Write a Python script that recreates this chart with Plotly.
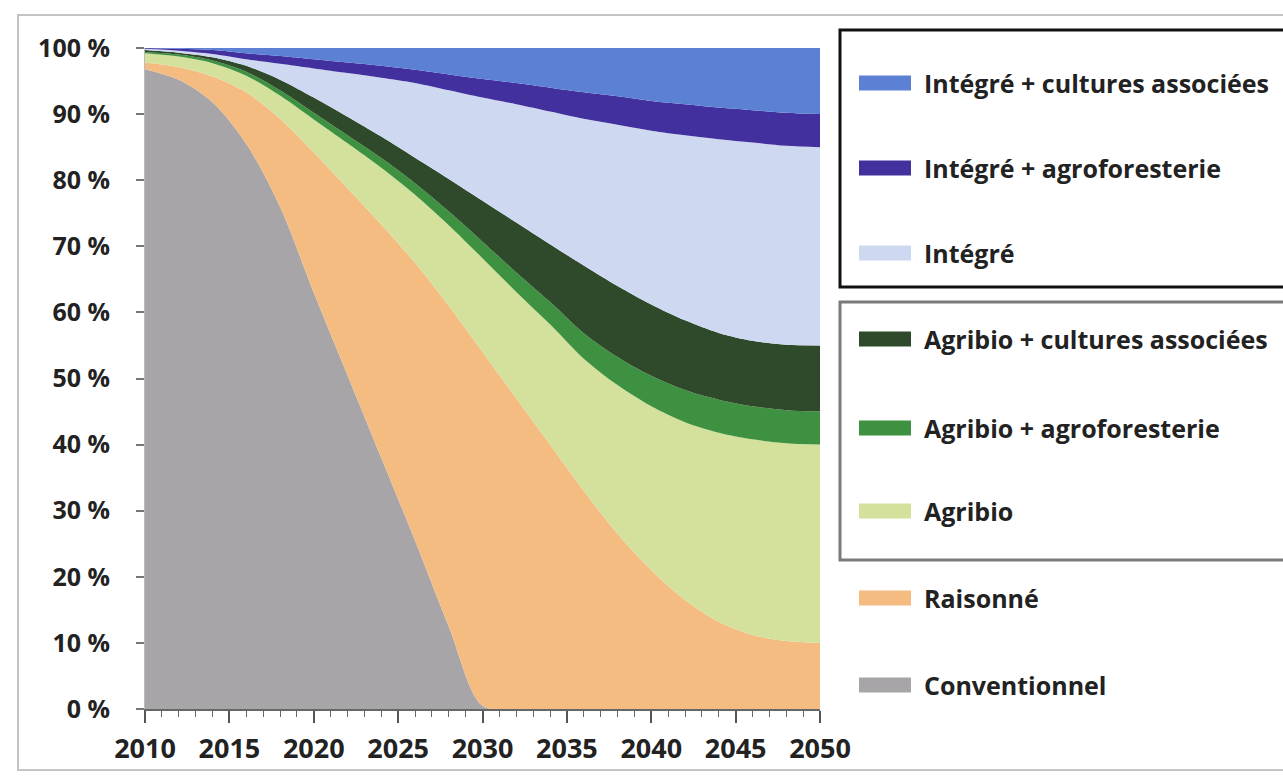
import plotly.graph_objects as go

# ---------------- data (share of area, %) ----------------
years = [2010, 2012, 2014, 2016, 2018, 2020, 2022, 2024, 2026, 2028, 2030,
         2032, 2034, 2036, 2038, 2040, 2042, 2044, 2046, 2048, 2050]

conventionnel = [96.8, 95.2, 91.8, 85.5, 76.0, 63.0, 50.5, 38.0, 25.5, 12.5, 0.5,
                 0, 0, 0, 0, 0, 0, 0, 0, 0, 0]
raisonne = [1.0, 1.9, 3.9, 7.8, 13.3, 21.2, 28.3, 35.3, 42.0, 48.5, 53.5,
            47.0, 40.0, 33.0, 26.5, 21.0, 16.5, 13.2, 11.2, 10.3, 10.0]
agribio = [1.4, 1.6, 2.0, 2.5, 3.5, 5.0, 6.8, 8.6, 10.3, 12.2, 14.2,
           16.1, 18.2, 20.0, 22.5, 24.8, 26.9, 28.6, 29.6, 29.9, 30.0]
agribio_agrof = [0.2, 0.3, 0.4, 0.6, 0.8, 1.0, 1.2, 1.45, 1.75, 2.1, 2.5,
                 2.95, 3.4, 3.85, 4.25, 4.6, 4.85, 5.0, 5.0, 5.0, 5.0]
agribio_ca = [0.3, 0.3, 0.5, 0.9, 1.6, 2.3, 2.8, 3.25, 3.85, 4.9, 6.2,
              7.55, 8.7, 10.25, 10.75, 10.8, 10.55, 10.1, 9.9, 9.9, 10.0]
integre = [0.2, 0.3, 0.5, 1.0, 2.4, 4.4, 6.6, 8.9, 11.3, 13.4, 15.6,
           17.9, 20.1, 22.2, 24.4, 26.3, 28.0, 29.3, 30.0, 30.1, 30.0]
integre_agrof = [0.1, 0.3, 0.6, 0.9, 1.2, 1.4, 1.6, 1.8, 2.0, 2.4, 2.8,
                 3.2, 3.6, 4.0, 4.3, 4.5, 4.7, 4.8, 4.9, 5.0, 5.0]
integre_ca = [0.0, 0.1, 0.3, 0.8, 1.2, 1.7, 2.2, 2.7, 3.3, 4.0, 4.7,
              5.3, 6.0, 6.7, 7.3, 8.0, 8.5, 9.0, 9.4, 9.8, 10.0]

series_names = ["Conventionnel", "Raisonné", "Agribio", "Agribio + agroforesterie",
                "Agribio + cultures associées", "Intégré", "Intégré + agroforesterie",
                "Intégré + cultures associées"]
series_values = [conventionnel, raisonne, agribio, agribio_agrof, agribio_ca,
                 integre, integre_agrof, integre_ca]
series_colors = ["#a8a5a8", "#f5bc82", "#d3e19d", "#3e9141", "#2f4a2a",
                 "#cfd8f1", "#41309e", "#5b80d4"]

y_tickvals = [0, 10, 20, 30, 40, 50, 60, 70, 80, 90, 100]
y_ticktext = ["0 %", "10 %", "20 %", "30 %", "40 %", "50 %", "60 %", "70 %",
              "80 %", "90 %", "100 %"]
x_tickvals = [2010, 2015, 2020, 2025, 2030, 2035, 2040, 2045, 2050]

# legend order (top to bottom) and pixel rows
legend_order = ["Intégré + cultures associées", "Intégré + agroforesterie", "Intégré",
                "Agribio + cultures associées", "Agribio + agroforesterie", "Agribio",
                "Raisonné", "Conventionnel"]
legend_rows_px = [83, 168, 253, 339, 428, 511, 598, 685]

# ---------------- figure ----------------
W, H = 1283, 781
L, R, T, B = 145, 820, 48, 709

fig = go.Figure()
for name, vals, col in zip(series_names, series_values, series_colors):
    fig.add_trace(go.Scatter(
        x=years, y=vals, name=name, stackgroup="one", mode="lines",
        line=dict(width=0, shape="spline", smoothing=0.9, color=col),
        fillcolor=col, showlegend=False, hoverinfo="x+y+name"))


def px_x(p):
    return (p - L) / (R - L)


def px_y(p):
    return (B - p) / (B - T)


shapes = []
annotations = []
color_of = dict(zip(series_names, series_colors))
for name, row in zip(legend_order, legend_rows_px):
    shapes.append(dict(type="rect", xref="paper", yref="paper",
                       x0=px_x(859), x1=px_x(911), y0=px_y(row + 7.5), y1=px_y(row - 7.5),
                       fillcolor=color_of[name], line=dict(width=0)))
    annotations.append(dict(xref="paper", yref="paper", x=px_x(922), y=px_y(row),
                            xanchor="left", yanchor="middle", showarrow=False,
                            text=name,
                            font=dict(family="Open Sans", size=25, color="#222222",
                                      weight=700)))

# group boxes
shapes.append(dict(type="rect", xref="paper", yref="paper",
                   x0=px_x(840), x1=px_x(1300), y0=px_y(287), y1=px_y(30),
                   line=dict(color="#111111", width=3), fillcolor="rgba(0,0,0,0)"))
shapes.append(dict(type="rect", xref="paper", yref="paper",
                   x0=px_x(840), x1=px_x(1300), y0=px_y(560), y1=px_y(302),
                   line=dict(color="#7a7a7a", width=3), fillcolor="rgba(0,0,0,0)"))
# outer frame
shapes.append(dict(type="rect", xref="paper", yref="paper",
                   x0=px_x(18), x1=px_x(1300), y0=px_y(770), y1=px_y(15),
                   line=dict(color="#c4c4c4", width=2), fillcolor="rgba(0,0,0,0)",
                   layer="below"))

fig.update_layout(
    width=W, height=H,
    margin=dict(l=L, r=W - R, t=T, b=H - B, pad=0),
    paper_bgcolor="white", plot_bgcolor="white",
    shapes=shapes, annotations=annotations, showlegend=False,
    font=dict(family="Open Sans", color="#222222"),
)
fig.update_xaxes(
    range=[2010, 2050], tickvals=x_tickvals, ticktext=[str(v) for v in x_tickvals],
    ticks="outside", ticklen=12, tickwidth=1.5, tickcolor="#555555",
    showline=True, linecolor="#666666", linewidth=1.5,
    showgrid=False, zeroline=False, ticklabelstandoff=3,
    tickfont=dict(family="Open Sans", size=27, color="#222222", weight=700),
    minor=dict(dtick=1, tick0=2010, ticks="outside", ticklen=6, tickwidth=1.2,
               tickcolor="#666666", showgrid=False),
)
fig.update_yaxes(
    range=[0, 100], tickvals=y_tickvals, ticktext=y_ticktext,
    ticks="outside", ticklen=8, tickwidth=1.5, tickcolor="#777777",
    showline=True, linecolor="#bbbbbb", linewidth=1,
    showgrid=False, zeroline=False, ticklabelstandoff=21,
    tickfont=dict(family="Open Sans", size=25, color="#222222", weight=700),
)

fig.write_html("out.html")
